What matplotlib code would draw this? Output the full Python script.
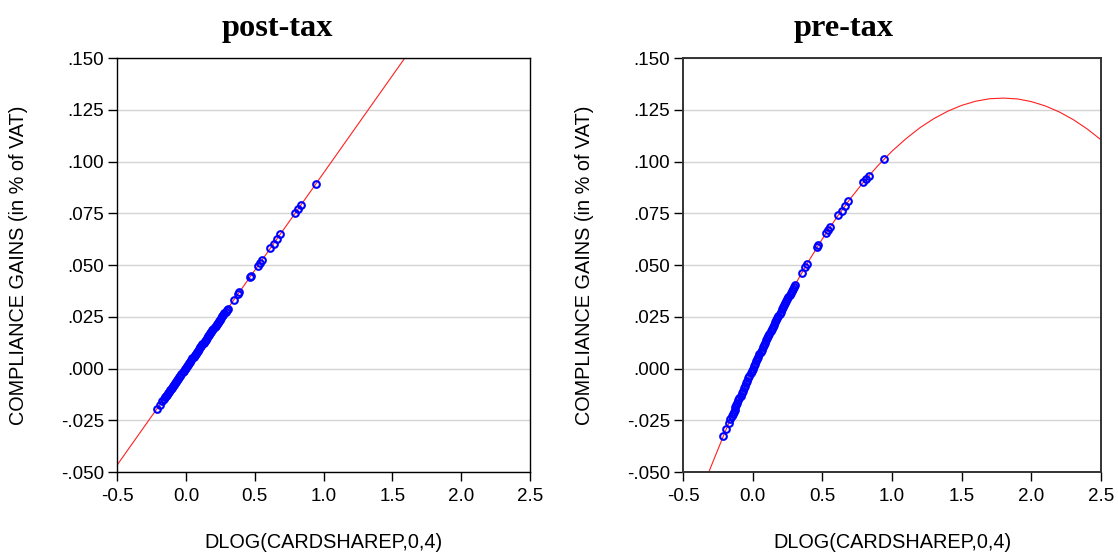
import matplotlib
matplotlib.use("Agg")
import matplotlib.pyplot as plt
from matplotlib.ticker import FuncFormatter

# DLOG(CARDSHAREP,0,4) observations (same x for both panels)
card_share = [
    -0.211, -0.190, -0.172, -0.160, -0.152, -0.145, -0.138, -0.131, -0.124, -0.117, -0.110, -0.103, -0.096,
    -0.088, -0.080, -0.072, -0.064, -0.056, -0.048, -0.040, -0.032, -0.024, -0.016, -0.008, 0.000,
    0.008, 0.016, 0.024, 0.032, 0.040, 0.048, 0.056, 0.064, 0.072, 0.080, 0.088, 0.096, 0.104, 0.112,
    0.120, 0.128, 0.136, 0.144, 0.152, 0.160, 0.168, 0.176, 0.184, 0.192, 0.200, 0.208, 0.216, 0.224,
    0.232, 0.240, 0.248, 0.256, 0.264, 0.272, 0.280, 0.288, 0.296, 0.304,
    0.350, 0.376, 0.388, 0.464, 0.470, 0.525, 0.540, 0.556, 0.613, 0.637, 0.661, 0.685,
    0.794, 0.815, 0.833, 0.942,
]

gains_post = [
    -0.0195, -0.0175, -0.0158, -0.0147, -0.0139, -0.0132, -0.0126, -0.0119, -0.0113, -0.0106, -0.0100, -0.0093, -0.0086,
    -0.0079, -0.0071, -0.0064, -0.0056, -0.0049, -0.0041, -0.0034, -0.0026, -0.0019, -0.0011, -0.0004, 0.0004,
    0.0012, 0.0019, 0.0027, 0.0034, 0.0042, 0.0049, 0.0057, 0.0064, 0.0072, 0.0079, 0.0087, 0.0094, 0.0102, 0.0109,
    0.0117, 0.0124, 0.0132, 0.0140, 0.0147, 0.0155, 0.0162, 0.0170, 0.0177, 0.0185, 0.0192, 0.0200, 0.0207, 0.0215,
    0.0222, 0.0230, 0.0237, 0.0245, 0.0252, 0.0260, 0.0267, 0.0275, 0.0283, 0.0290,
    0.0333, 0.0358, 0.0369, 0.0441, 0.0446, 0.0498, 0.0512, 0.0527, 0.0581, 0.0603, 0.0626, 0.0649,
    0.0751, 0.0771, 0.0788, 0.0890,
]

gains_pre = [
    -0.0326, -0.0291, -0.0263, -0.0244, -0.0231, -0.0220, -0.0209, -0.0198, -0.0187, -0.0176, -0.0165, -0.0154, -0.0144,
    -0.0131, -0.0119, -0.0107, -0.0095, -0.0083, -0.0071, -0.0059, -0.0047, -0.0035, -0.0023, -0.0012, 0.0000,
    0.0012, 0.0023, 0.0035, 0.0046, 0.0058, 0.0069, 0.0080, 0.0092, 0.0103, 0.0114, 0.0125, 0.0136, 0.0147, 0.0158,
    0.0169, 0.0180, 0.0191, 0.0201, 0.0212, 0.0223, 0.0233, 0.0244, 0.0254, 0.0265, 0.0275, 0.0286, 0.0296, 0.0306,
    0.0316, 0.0326, 0.0336, 0.0346, 0.0356, 0.0366, 0.0376, 0.0386, 0.0396, 0.0405,
    0.0460, 0.0490, 0.0504, 0.0589, 0.0595, 0.0653, 0.0668, 0.0685, 0.0741, 0.0763, 0.0786, 0.0808,
    0.0901, 0.0918, 0.0932, 0.1012,
]

# fitted lines
fit_post_x = [-0.6, 1.8]
fit_post_y = [-0.0561, 0.1698]

fit_pre_x = [-0.4, -0.3, -0.2, -0.1, 0.0, 0.1, 0.2, 0.3, 0.4, 0.5, 0.6, 0.7, 0.8, 0.9, 1.0, 1.1,
             1.2, 1.3, 1.4, 1.5, 1.6, 1.7, 1.8, 1.9, 2.0, 2.1, 2.2, 2.3, 2.4, 2.5, 2.6]
fit_pre_y = [-0.0648, -0.0474, -0.0308, -0.0150, 0.0000, 0.0142, 0.0275, 0.0401, 0.0518, 0.0627,
             0.0728, 0.0821, 0.0906, 0.0982, 0.1051, 0.1111, 0.1164, 0.1208, 0.1244, 0.1272, 0.1292,
             0.1304, 0.1307, 0.1303, 0.1290, 0.1269, 0.1240, 0.1203, 0.1158, 0.1105, 0.1044]

x_ticks = [-0.5, 0.0, 0.5, 1.0, 1.5, 2.0, 2.5]
y_ticks = [-0.050, -0.025, 0.000, 0.025, 0.050, 0.075, 0.100, 0.125, 0.150]

plt.rcParams['font.family'] = ['Liberation Sans', 'DejaVu Sans']


def dot_fmt(v, pos):
    s = f"{v:.3f}"
    return s.replace("0.", ".", 1)


fig = plt.figure(figsize=(11.18, 5.54), dpi=100)
ax1 = fig.add_axes([0.1047, 0.148, 0.3694, 0.747])
ax2 = fig.add_axes([0.6110, 0.148, 0.3739, 0.747])

panels = [
    (ax1, "post-tax", gains_post, fit_post_x, fit_post_y, 0.248, -0.215, 'black', 1.0),
    (ax2, "pre-tax", gains_pre, fit_pre_x, fit_pre_y, 0.755, -0.213, '#333333', 1.4),
]

for ax, title, gains, fx, fy, tx, ylx, spc, spw in panels:
    ax.plot(fx, fy, color='#ff2020', linewidth=0.8, zorder=2)
    ax.plot(card_share, gains, linestyle='none', marker='o', markersize=4.8,
            markerfacecolor='none', markeredgecolor='#0000ff', markeredgewidth=1.5, zorder=3)

    ax.set_xlim(-0.5, 2.5)
    ax.set_ylim(-0.05, 0.15)
    ax.set_xticks(x_ticks)
    ax.set_yticks(y_ticks)
    ax.xaxis.set_major_formatter(FuncFormatter(lambda v, p: f"{v:.1f}"))
    ax.yaxis.set_major_formatter(FuncFormatter(dot_fmt))
    ax.tick_params(direction='out', length=6.5, width=1, labelsize=13.5)
    ax.tick_params(axis='x', pad=5)
    ax.tick_params(axis='y', pad=3)
    ax.grid(axis='y', color='#d4d4d4', linewidth=1)
    ax.set_axisbelow(True)
    for sp in ax.spines.values():
        sp.set_color(spc)
        sp.set_linewidth(spw)

    fig.text(tx, 0.949, title, family='Liberation Serif', fontweight='bold',
             fontsize=23.3, ha='center', va='center')
    ax.set_xlabel("DLOG(CARDSHAREP,0,4)", fontsize=14.3, labelpad=20)
    ax.set_ylabel("COMPLIANCE GAINS (in % of VAT)", fontsize=14.3)
    ax.yaxis.set_label_coords(ylx, 0.5)

fig.savefig("out.png", dpi=100)
